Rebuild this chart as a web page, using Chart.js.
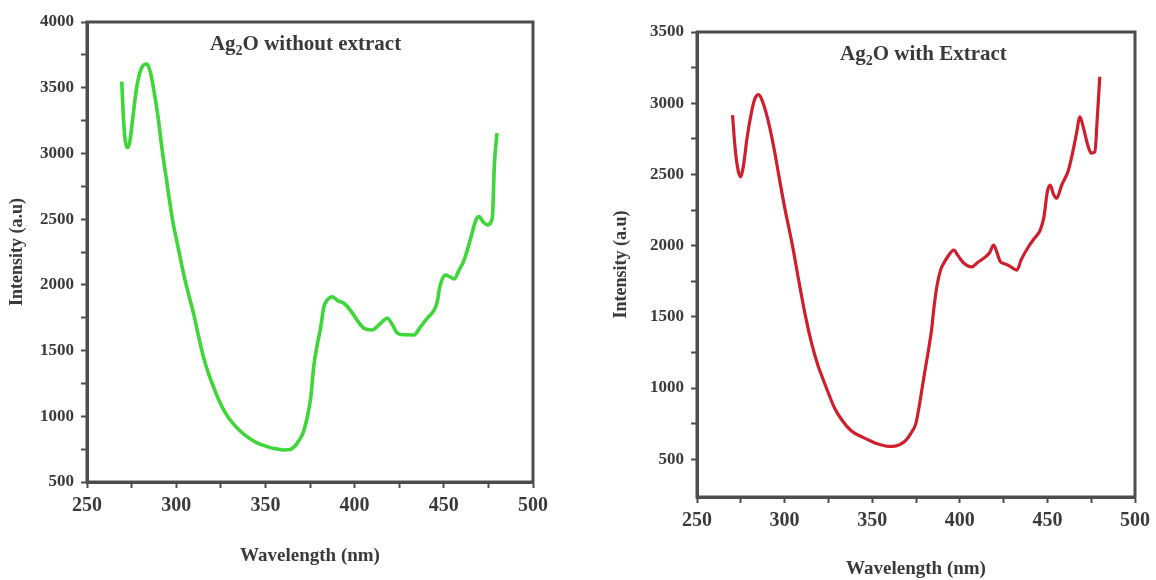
<!DOCTYPE html>
<html>
<head>
<meta charset="utf-8">
<script src="https://cdn.jsdelivr.net/npm/chart.js@4.4.1/dist/chart.umd.min.js"></script>
<style>
  body { margin: 0; background: #fff; width: 1156px; height: 580px; overflow: hidden; position: relative; }
  canvas { position: absolute; top: 0; }
  #chart-left { left: 0; }
  #chart-right { left: 580px; }
</style>
</head>
<body>
<canvas id="chart-left" width="560" height="580"></canvas>
<canvas id="chart-right" width="576" height="580"></canvas>
<script>

// ------------------------------
// DATA
// ------------------------------

const noExtractWavelength = [
  269.5, 270.3, 271.3, 272.6, 274, 275.5, 277.5, 279.5, 281.5, 283.5,
  285.5, 287.5, 289.9, 292, 295, 298, 301, 304.1, 306.8,
  309.7, 312.5, 315.3, 318, 321, 324, 327, 330.3, 335, 339.7, 345,
  351, 356, 360, 363, 366, 368.5, 371, 373.4, 375.5, 377.1,
  379, 380.9, 382.8, 384.7, 387.5, 390.5, 394, 398, 402, 405.2,
  410, 414, 418.4, 421, 424, 428, 433.3, 437, 441, 444.6,
  446.5, 447.4, 449, 451.1, 453.5, 455.8, 458.5, 461.4, 465, 468,
  469.8, 472, 474.6, 476.5, 477.4, 478.3, 479.8
];
const noExtractIntensity = [
  3546, 3300, 3110, 3045, 3090, 3250, 3470, 3610, 3670, 3680,
  3620, 3480, 3270, 3040, 2760, 2490, 2290, 2088, 1935,
  1784, 1610, 1450, 1330, 1220, 1120, 1040, 972, 900, 845, 800,
  769, 752, 744, 745, 765, 810, 870, 990, 1150, 1380,
  1540, 1670, 1834, 1885, 1910, 1880, 1860, 1800, 1720, 1670,
  1657, 1700, 1746, 1700, 1632, 1620, 1619, 1682, 1750, 1809,
  1880, 1960, 2040, 2075, 2060, 2045, 2110, 2189, 2350, 2494,
  2519, 2480, 2456, 2480, 2545, 2900, 3154
];

const withExtractWavelength = [
  270.3, 271.5, 273, 274.8, 276.5, 278.5, 281, 283, 285.2, 287.5,
  289.5, 291.5, 294, 296.6, 300, 304.5, 308, 312, 315.5, 319,
  322, 325, 328.5, 333, 338, 344.5, 348.3, 352, 355.9,
  359.7, 363, 366, 369.2, 372, 374.9, 376.8, 378.6, 380.5, 382.4,
  384, 385.2, 387, 389, 391, 393, 396.6, 399, 402, 405,
  407, 410, 414.6, 417, 419.3, 421, 423, 425, 428, 432.6,
  435, 439.2, 442.5, 445.9, 448, 450, 451.6, 453.5, 455.3, 458,
  462, 464, 466.5, 468.6, 470.5, 473.3, 475, 477.1, 478.5, 479.9
];
const withExtractIntensity = [
  2917, 2720, 2560, 2483, 2560, 2750, 2930, 3030, 3060, 3010,
  2930, 2830, 2680, 2500, 2270, 2000, 1760, 1500, 1310, 1160,
  1060, 965, 860, 770, 700, 655, 633, 612, 598,
  590, 592, 605, 633, 680, 750, 870, 1008, 1150, 1289,
  1420, 1560, 1720, 1828, 1880, 1920, 1968, 1930, 1880, 1855,
  1851, 1880, 1921, 1950, 2004, 1960, 1890, 1875, 1860, 1828,
  1900, 1992, 2050, 2109, 2200, 2380, 2425, 2360, 2332, 2420,
  2530, 2630, 2780, 2905, 2830, 2694, 2650, 2659, 2900, 3186
];

const xTickLabels = [250, 300, 350, 400, 450, 500];
const leftYTickLabels = [500, 1000, 1500, 2000, 2500, 3000, 3500, 4000];
const rightYTickLabels = [500, 1000, 1500, 2000, 2500, 3000, 3500];

const leftTitle = ["Ag", "2", "O without extract"];
const rightTitle = ["Ag", "2", "O with Extract"];


// ------------------------------
// STYLE
// ------------------------------

const SERIF = '"Liberation Serif", "Times New Roman", serif';
const AXIS_COLOR = "#4d4d4d";
const TEXT_COLOR = "#3a3a3a";

Chart.defaults.font.family = SERIF;
Chart.defaults.font.weight = "bold";
Chart.defaults.color = TEXT_COLOR;


// ------------------------------
// HELPERS
// ------------------------------

function toPoints(xs, ys) {
  return xs.map((x, i) => ({ x: x, y: ys[i] }));
}

// major ticks plus one minor tick between each pair
function withMinor(labels) {
  const out = [];
  labels.forEach((v, i) => {
    out.push(v);
    if (i < labels.length - 1) out.push((v + labels[i + 1]) / 2);
  });
  return out;
}

// frame round the plot and the title with a subscript 2
const framePlugin = {
  id: "frame",
  afterDraw(chart, args, opts) {
    const { ctx, chartArea: a } = chart;
    ctx.save();
    ctx.strokeStyle = AXIS_COLOR;
    ctx.lineWidth = 3;
    ctx.strokeRect(a.left, a.top, a.right - a.left, a.bottom - a.top);

    const parts = opts.title;
    const big = "bold 21px " + SERIF;
    const small = "bold 14px " + SERIF;
    ctx.font = big;
    const w0 = ctx.measureText(parts[0]).width;
    const w2 = ctx.measureText(parts[2]).width;
    ctx.font = small;
    const w1 = ctx.measureText(parts[1]).width;
    const total = w0 + w1 + w2;
    let x = a.left + opts.titleAt * (a.right - a.left) - total / 2;
    const y = a.top + 23;
    ctx.fillStyle = TEXT_COLOR;
    ctx.textBaseline = "middle";
    ctx.textAlign = "left";
    ctx.font = big;
    ctx.fillText(parts[0], x, y);
    x += w0;
    ctx.font = small;
    ctx.fillText(parts[1], x, y + 6);
    x += w1;
    ctx.font = big;
    ctx.fillText(parts[2], x, y);
    ctx.restore();
  }
};


// ------------------------------
// CHART
// ------------------------------

function makeChart(id, setup) {
  return new Chart(document.getElementById(id), {
    type: "line",
    data: {
      datasets: [{
        data: toPoints(setup.xs, setup.ys),
        borderColor: setup.color,
        borderWidth: setup.width,
        pointRadius: 0,
        cubicInterpolationMode: "monotone",
        fill: false
      }]
    },
    options: {
      responsive: false,
      animation: false,
      devicePixelRatio: 1,
      layout: { padding: setup.padding },
      plugins: {
        legend: { display: false },
        tooltip: { enabled: false },
        frame: { title: setup.title, titleAt: setup.titleAt }
      },
      scales: {
        x: {
          type: "linear",
          min: 250,
          max: 500,
          afterBuildTicks: s => { s.ticks = withMinor(xTickLabels).map(v => ({ value: v })); },
          afterFit: s => { s.height = setup.xHeight; },
          ticks: {
            autoSkip: false,
            maxRotation: 0,
            padding: 6,
            color: TEXT_COLOR,
            font: { size: 20, weight: "bold" },
            callback: v => xTickLabels.includes(v) ? String(v) : ""
          },
          grid: {
            drawOnChartArea: false,
            tickLength: 6,
            tickWidth: 2,
            tickColor: AXIS_COLOR
          },
          border: { color: AXIS_COLOR, width: 3 },
          title: {
            display: true,
            text: "Wavelength (nm)",
            color: TEXT_COLOR,
            font: { size: 19, weight: "bold" },
            padding: { top: 0, bottom: setup.xTitlePad }
          }
        },
        y: {
          type: "linear",
          min: setup.yMin,
          max: setup.yMax,
          afterBuildTicks: s => { s.ticks = withMinor(setup.yLabels).map(v => ({ value: v })); },
          afterFit: s => { s.width = 87; },
          ticks: {
            autoSkip: false,
            padding: 7,
            color: TEXT_COLOR,
            font: { size: 17, weight: "bold" },
            callback: v => setup.yLabels.includes(v) ? String(v) : ""
          },
          grid: {
            drawOnChartArea: false,
            tickLength: 6,
            tickWidth: 2,
            tickColor: AXIS_COLOR
          },
          border: { color: AXIS_COLOR, width: 3 },
          title: {
            display: true,
            text: "Intensity (a.u)",
            color: TEXT_COLOR,
            font: { size: 18, weight: "bold" },
            padding: { top: setup.yTitlePad, bottom: 0 }
          }
        }
      }
    },
    plugins: [framePlugin]
  });
}


makeChart("chart-left", {
  xs: noExtractWavelength,
  ys: noExtractIntensity,
  color: "#3fd63a",
  width: 3.6,
  yMin: 500,
  yMax: 4000,
  yLabels: leftYTickLabels,
  padding: { left: 0, top: 22, right: 27, bottom: 0 },
  xHeight: 98,
  xTitlePad: 13,
  yTitlePad: 7,
  title: leftTitle,
  titleAt: 0.49
});

makeChart("chart-right", {
  xs: withExtractWavelength,
  ys: withExtractIntensity,
  color: "#cf1f2c",
  width: 3.2,
  yMin: 235,
  yMax: 3500,
  yLabels: rightYTickLabels,
  padding: { left: 30, top: 32, right: 17, bottom: 0 },
  xHeight: 83,
  xTitlePad: 0,
  yTitlePad: 1,
  title: rightTitle,
  titleAt: 0.517
});

</script>
</body>
</html>
